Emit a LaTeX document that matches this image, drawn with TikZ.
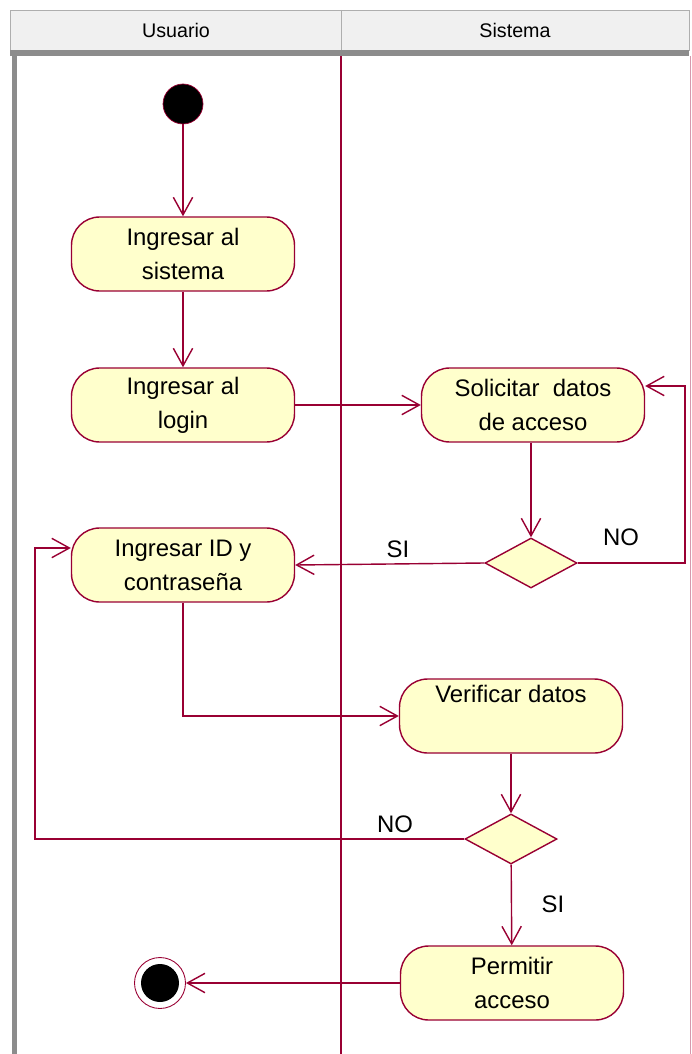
\documentclass[tikz,border=0pt]{standalone}
\usepackage{fontspec}
\setmainfont{Liberation Sans}
\usetikzlibrary{arrows.meta, shapes.geometric, positioning}
\definecolor{roseline}{HTML}{990033}
\definecolor{rosefill}{HTML}{FFFFCC}
\definecolor{lanehead}{HTML}{F0F0F0}
\definecolor{lanegray}{HTML}{8C8C8C}

\tikzset{
    activity/.style={draw=roseline, fill=rosefill, line width=0.8pt, rounded corners=16pt,
        minimum width=4.46cm, minimum height=1.48cm, inner sep=0pt, align=center,
        font=\fontsize{13.6}{19.3}\selectfont},
    decision/.style={diamond, draw=roseline, fill=rosefill, line width=0.8pt,
        minimum width=1.84cm, minimum height=1cm, inner sep=0pt},
    flow/.style={draw=roseline, line width=0.8pt, -{Straight Barb[length=10pt,width=11pt]}},
    guard/.style={font=\fontsize{13.6}{16}\selectfont},
    lanelabel/.style={font=\fontsize{11.2}{13}\selectfont},
}

\begin{document}
\begin{tikzpicture}[x=0.02cm, y=-0.02cm]
    \useasboundingbox (0,0) rectangle (691,1054);
    % Swimlanes
    \fill[lanehead] (10,10) rectangle (689,50);
    \draw[lanegray!70] (10,10) rectangle (689,50);
    \draw[lanegray!70] (341,10) -- (341,50);
    \fill[lanegray] (10,50) rectangle (689,56);
    \fill[lanegray] (12,50) rectangle (17,1054);
    \draw[roseline, line width=0.8pt] (341,56) -- (341,1054);
    \draw[roseline!40] (690,56) -- (690,1054);
    \node[lanelabel] (hUsuario) at (176,30) {Usuario};
    \node[lanelabel] (hSistema) at (515,30) {Sistema};
    % Initial and final states
    \node[circle, fill=black, draw=roseline, minimum size=0.8cm, inner sep=0pt] (start) at (183,104) {};
    \node[circle, fill=white, draw=roseline, line width=0.5pt, minimum size=1.02cm, inner sep=0pt] (end) at (160,983) {};
    \node[circle, fill=black, minimum size=0.76cm, inner sep=0pt] (endDot) at (end.center) {};
    % Activities
    \node[activity] (sistema) at (183,254) {Ingresar al\\sistema};
    \node[activity] (login) at (183,405) {Ingresar al\\login};
    \node[activity] (solicitar) at (533,405) {Solicitar~ datos\\de acceso};
    \node[activity] (datos) at (183,565) {Ingresar ID y\\contraseña};
    \node[activity] (verificar) at (511,716) {Verificar datos\\\strut};
    \node[activity] (permitir) at (512,983) {Permitir\\acceso};
    % Decisions
    \node[decision] (dec1) at (531,563) {};
    \node[decision] (dec2) at (511,839) {};
    % Return points
    \coordinate (retA) at (685,386);
    \coordinate (retB) at (35,548);
    % Flows
    \draw[flow] (start) -- (sistema);
    \draw[flow] (sistema) -- (login);
    \draw[flow] (login) -- (solicitar);
    \draw[flow] (solicitar.south -| dec1) -- (dec1);
    \draw[flow] (dec1.west) -- (datos.east);
    \draw[flow] (dec1.east) -| (retA) -- (retA -| solicitar.east);
    \draw[flow] (datos.south) |- (verificar.west);
    \draw[flow] (verificar) -- (dec2);
    \draw[flow] (dec2.west) -| (retB) -- (retB -| datos.west);
    \draw[flow] (dec2) -- (permitir);
    \draw[flow] (permitir) -- (end);
    % Guards
    \node[guard] (siA) at (398,549) {SI};
    \node[guard] (noA) at (621,537) {NO};
    \node[guard] (noB) at (395,824) {NO};
    \node[guard] (siB) at (553,904) {SI};
\end{tikzpicture}
\end{document}
